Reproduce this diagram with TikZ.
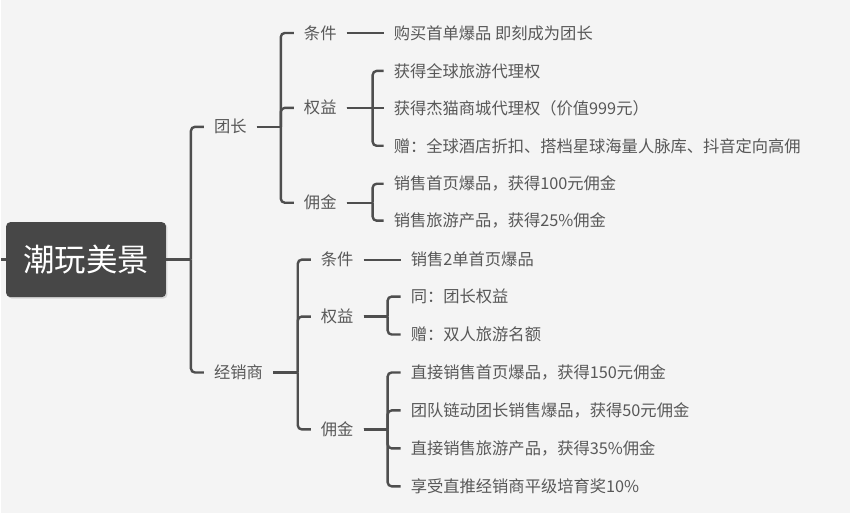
\documentclass[tikz,border=0pt]{standalone}
\usepackage{fontspec}
\setmainfont{Noto Sans CJK SC}
\usepackage{tikz}
\usetikzlibrary{positioning, shadows}

\definecolor{bgc}{HTML}{F4F4F4}
\definecolor{ink}{HTML}{585858}
\definecolor{wire}{HTML}{4E4E4E}
\definecolor{rootc}{HTML}{474747}

\begin{document}
\begin{tikzpicture}[
      x=1pt, y=-1pt,
      font=\fontsize{16.3}{19}\selectfont,
      rootbox/.style={fill=rootc, rounded corners=4pt, minimum width=160pt,
                      minimum height=75pt, text=white, font=\fontsize{31.5}{36}\selectfont,
                      drop shadow={opacity=0.25, shadow xshift=1.5pt, shadow yshift=-1.5pt}},
      topic/.style={anchor=west, text=ink, inner xsep=10pt, inner ysep=2pt},
      leaf/.style={anchor=west, text=ink, inner xsep=10pt, inner ysep=2pt},
      link/.style={draw=wire, line width=2.4pt},
    ]
    % ── 背景与边界 ──
    \fill[bgc] (0,0) rectangle (850,514);
    % ── 中心主题 ──
    \coordinate (in) at (0,260);
    \node[rootbox] (root) at (85,260) {潮玩美景};
    \draw[link] (in) -- (root.west);
    % ── 一级主题 ──
    \node[topic] (tz) at (203,127) {团长};
    \node[topic] (jx) at (203,373) {经销商};
    % ── 二级主题 ──
    \node[topic] (tzA) at (293,33)  {条件};
    \node[topic] (tzB) at (293,108) {权益};
    \node[topic] (tzC) at (293,203) {佣金};
    \node[topic] (jxA) at (310,260) {条件};
    \node[topic] (jxB) at (310,317) {权益};
    \node[topic] (jxC) at (310,430) {佣金};
    % ── 细项 ──
    \node[leaf] (tzA1) at (383,33)  {购买首单爆品 即刻成为团长};
    \node[leaf] (tzB1) at (383,71)  {获得全球旅游代理权};
    \node[leaf] (tzB2) at (383,108) {获得杰猫商城代理权（价值999元）};
    \node[leaf] (tzB3) at (383,146) {赠：全球酒店折扣、搭档星球海量人脉库、抖音定向高佣};
    \node[leaf] (tzC1) at (383,184) {销售首页爆品，获得100元佣金};
    \node[leaf] (tzC2) at (383,221) {销售旅游产品，获得25\%佣金};
    \node[leaf] (jxA1) at (400,260) {销售2单首页爆品};
    \node[leaf] (jxB1) at (400,297) {同：团长权益};
    \node[leaf] (jxB2) at (400,335) {赠：双人旅游名额};
    \node[leaf] (jxC1) at (400,373) {直接销售首页爆品，获得150元佣金};
    \node[leaf] (jxC2) at (400,411) {团队链动团长销售爆品，获得50元佣金};
    \node[leaf] (jxC3) at (400,449) {直接销售旅游产品，获得35\%佣金};
    \node[leaf] (jxC4) at (400,487) {享受直推经销商平级培育奖10\%};
    % ── 连线 ──
    \foreach \p/\x/\c in {root/190/tz, root/190/jx,
        tz/280/tzA, tz/280/tzB, tz/280/tzC,
        jx/297/jxA, jx/297/jxB, jx/297/jxC,
        tzB/372/tzB1, tzB/372/tzB3, tzC/372/tzC1, tzC/372/tzC2,
        jxB/387/jxB1, jxB/387/jxB2,
        jxC/387/jxC1, jxC/387/jxC2, jxC/387/jxC3, jxC/387/jxC4} {
      \draw[link] (\p.east) -- (\x,0 |- \p.east);
      \draw[link, rounded corners=4pt] (\x,0 |- \p.east) |- (\c.west);
    }
    \draw[link] (tzB.east) -- (tzB2.west);
    \draw[link, line width=2pt] (tzA.east) -- (tzA1.west);
    \draw[link, line width=2pt] (jxA.east) -- (jxA1.west);
  \end{tikzpicture}
\end{document}
